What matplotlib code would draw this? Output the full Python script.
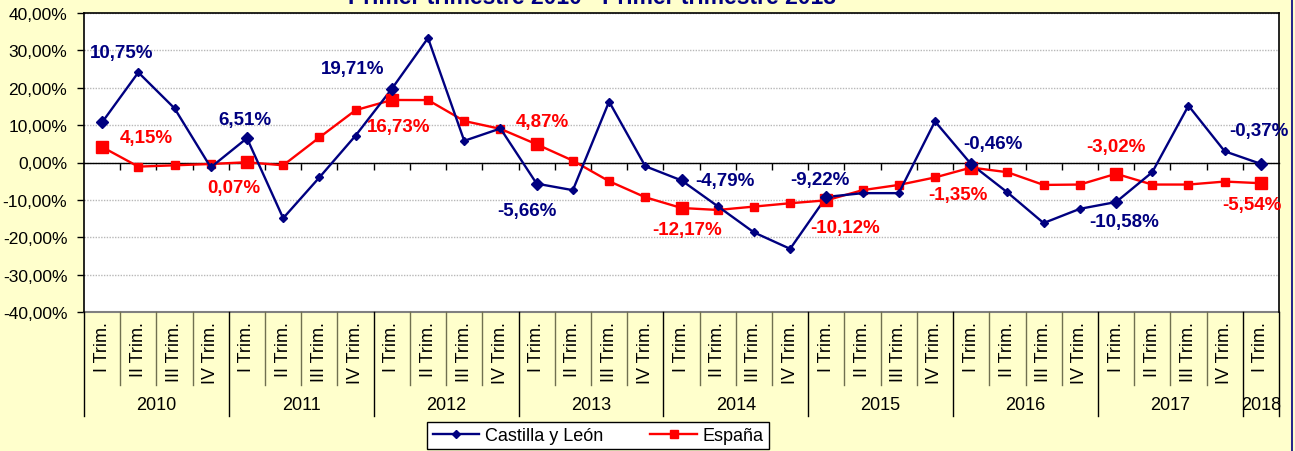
import matplotlib
matplotlib.use("Agg")
import matplotlib.pyplot as plt
import matplotlib.transforms as mtransforms
from matplotlib.lines import Line2D
from matplotlib.ticker import FuncFormatter, FixedLocator, NullLocator

plt.rcParams['font.family'] = ['Liberation Sans', 'DejaVu Sans']

# data
trimestres = ['I Trim.', 'II Trim.', 'III Trim.', 'IV Trim.'] * 8 + ['I Trim.']
years = ['2010', '2011', '2012', '2013', '2014', '2015', '2016', '2017', '2018']

castilla = [10.75, 24.1, 14.5, -1.3,
            6.51, -14.9, -4.0, 7.2,
            19.71, 33.3, 5.8, 9.1,
            -5.66, -7.4, 16.3, -1.0,
            -4.79, -11.7, -18.7, -23.1,
            -9.22, -8.2, -8.2, 11.0,
            -0.46, -8.0, -16.2, -12.4,
            -10.58, -2.6, 15.2, 3.0,
            -0.37]
espana = [4.15, -1.1, -0.75, -0.4,
          0.07, -0.75, 6.7, 14.0,
          16.73, 16.7, 11.1, 9.0,
          4.87, 0.5, -5.0, -9.3,
          -12.17, -12.7, -11.8, -10.9,
          -10.12, -7.4, -6.0, -4.0,
          -1.35, -2.6, -6.0, -5.9,
          -3.02, -5.9, -5.9, -5.1,
          -5.54]

# label offsets in pixels (dx, dy) for the first quarter of each year
cyl_offsets = [(20, 70), (-2, 19), (-39, 20), (-10, -27), (43, 0),
               (-6, 17), (22, 21), (8, -19), (-2, 33)]
esp_offsets = [(44, 9), (-13, -25), (7, -27), (6, 23), (6, -22),
               (19, -27), (-13, -27), (0, 27), (-9, -21)]

NAVY = '#000080'
RED = '#FF0000'
W, H = 1295, 452

fig = plt.figure(figsize=(W / 100, H / 100), dpi=100, facecolor='#FFFFCC')
left, right, top, bottom = 84, 1279, 14, 313
ax = fig.add_axes([left / W, (H - bottom) / H, (right - left) / W, (bottom - top) / H])
ax.set_facecolor('white')

x = list(range(len(trimestres)))
ax.plot(x, castilla, color=NAVY, lw=1.7, marker='D', ms=4.4, mec=NAVY, mfc=NAVY, zorder=4)
ax.plot(x, espana, color=RED, lw=1.7, marker='s', ms=5.5, mec=RED, mfc=RED, zorder=3)

q1 = x[::4]
ax.plot(q1, [castilla[i] for i in q1], ls='none', marker='D', ms=6.5, color=NAVY, zorder=5)
ax.plot(q1, [espana[i] for i in q1], ls='none', marker='s', ms=8.5, color=RED, zorder=4)

def fmt(v):
    return f"{v:.2f}".replace('.', ',') + '%'

for k, i in enumerate(q1):
    dx, dy = cyl_offsets[k]
    ax.annotate(fmt(castilla[i]), (i, castilla[i]), xytext=(dx, dy), textcoords='offset pixels',
                ha='center', va='center', fontsize=13.5, fontweight='bold', color=NAVY, zorder=6)
    dx, dy = esp_offsets[k]
    ax.annotate(fmt(espana[i]), (i, espana[i]), xytext=(dx, dy), textcoords='offset pixels',
                ha='center', va='center', fontsize=13.5, fontweight='bold', color=RED, zorder=6)

ax.set_xlim(-0.5, len(x) - 0.5)
ax.set_ylim(-40, 40)
ax.yaxis.set_major_locator(FixedLocator(range(-40, 41, 10)))
ax.yaxis.set_major_formatter(FuncFormatter(lambda v, p: fmt(v)))
ax.tick_params(axis='y', direction='out', length=5, width=1, pad=7, labelsize=12.5, colors='black')
ax.yaxis.grid(True, color='#b8b8b8', linestyle=(0, (1, 1)), lw=1)
ax.set_axisbelow(True)

# x axis sits on zero, ticks at category boundaries
ax.spines['bottom'].set_position(('data', 0))
ax.spines['bottom'].set_linewidth(1)
ax.xaxis.set_major_locator(NullLocator())
ax.xaxis.set_minor_locator(FixedLocator([b + 0.5 for b in x[:-1]]))
ax.tick_params(axis='x', which='minor', direction='out', length=5, width=1, colors='black')
for s in ['left', 'top', 'right']:
    ax.spines[s].set_color('black')
    ax.spines[s].set_linewidth(1.2)
ax.plot([0, 1], [0, 0], transform=ax.transAxes, color='#808080', lw=1.5, clip_on=False)

# category labels under the plot
trans = mtransforms.blended_transform_factory(ax.transData, ax.transAxes)
ph = bottom - top
for i, lab in enumerate(trimestres):
    ax.text(i, -9 / ph, lab, transform=trans, rotation=90, ha='center', va='top', fontsize=13)
for b in range(len(x) + 1):
    bx = b - 0.5
    depth = 104 if (b % 4 == 0 or b == len(x)) else 73
    col = 'black' if depth == 104 else '#707050'
    ax.plot([bx, bx], [0, -depth / ph], transform=trans, color=col, lw=1, clip_on=False)
for k, yr in enumerate(years):
    cx = min(4 * k + 1.5, len(x) - 1)
    ax.text(cx, -93 / ph, yr, transform=trans, ha='center', va='center', fontsize=13)

# legend
handles = [Line2D([], [], color=NAVY, lw=1.7, marker='D', ms=4.4),
           Line2D([], [], color=RED, lw=1.7, marker='s', ms=5.5)]
leg = fig.legend(handles, ['Castilla y León', 'España'], loc='center', ncol=2,
                 bbox_to_anchor=(598 / W, (H - 436.5) / H), fontsize=13, frameon=True,
                 fancybox=False, edgecolor='black', framealpha=1, handlelength=2.6,
                 handletextpad=0.3, columnspacing=2.6, borderpad=0.3)
leg.get_frame().set_linewidth(1)

# title (top cut off as in the reference)
fig.text(592 / W, 1 - 4 / H, 'Primer trimestre 2010 - Primer trimestre 2018', ha='center',
         va='baseline', fontsize=16.5, fontweight='bold', color=NAVY)

# chart border at right
fig.add_artist(Line2D([1292 / W] * 2, [0, 1], transform=fig.transFigure, color=NAVY, lw=1.2))

fig.savefig('out.png', dpi=100, facecolor=fig.get_facecolor())
